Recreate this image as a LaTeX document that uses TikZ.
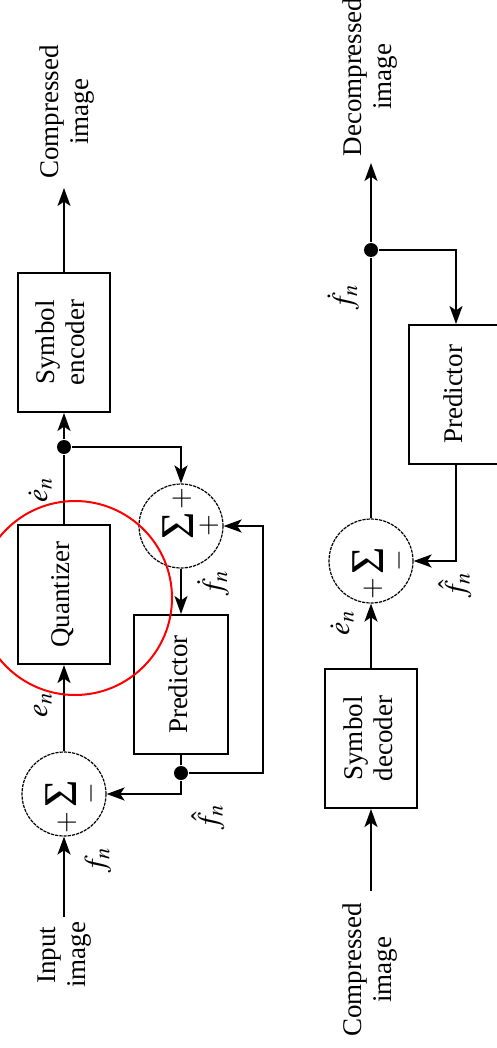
\documentclass[tikz,border=0pt]{standalone}
\usepackage{mathptmx}
\usepackage{fontspec}
\setmainfont{Liberation Serif}
\usetikzlibrary{arrows.meta}

\newcommand{\vlines}[1]{\rotatebox{90}{\begin{tabular}{@{}c@{}}#1\end{tabular}}}

\begin{document}
\begin{tikzpicture}[x=0.5pt,y=-0.5pt,
  every node/.style={font=\fontsize{13.5}{15}\selectfont},
  line width=1pt,
  arr/.style={-{Stealth[length=9pt,width=6.5pt,inset=2.2pt]}},
  box/.style={draw, line width=1pt, minimum width=46pt, minimum height=69.5pt, inner sep=0pt},
  sumnode/.style={circle, draw, line width=0.6pt, dash pattern=on 1.6pt off 0.5pt,
                  minimum size=42pt, inner sep=0pt},
  jdot/.style={circle, fill, minimum size=7pt, inner sep=0pt},
  vtext/.style={rotate=90, align=center},
  sig/.style={rotate=90, inner sep=0pt, font=\fontsize{23.5}{23.5}\selectfont},
  signmark/.style={rotate=90, inner sep=0pt, font=\fontsize{14}{14}\selectfont},
  lab/.style={rotate=90, inner sep=0pt, font=\fontsize{15}{15}\selectfont}]

\useasboundingbox (0,0) rectangle (497,1048);
\clip (0,0) rectangle (497,1048);

% ---------------- Encoder ----------------
\node[box] (enc)   at (64,342.5) {\vlines{Symbol\\encoder}};
\node[box] (quant) at (64,594.5) {\vlines{Quantizer}};
\node[box, minimum width=47pt] (pred1) at (181,684.5) {\vlines{Predictor}};
\node[sumnode] (s1) at (64,794) {};
\node[sumnode] (s2) at (181,526) {};

\node[sig] at ([xshift=-1.5pt]s1.center) {Σ};
\node[sig] at ([xshift=-1.5pt]s2.center) {Σ};
\node[signmark] at (67,823) {$+$};
\node[signmark] at (91,794) {$-$};
\node[signmark] at (182,499) {$+$};
\node[signmark] at (209,526) {$+$};

\node[jdot] (d1) at (64,447) {};
\node[jdot] (d2) at (181,773) {};
\coordinate (fb) at (263,773);
\coordinate (outA) at (64,188);
\coordinate (inA) at (64,917);

\node[vtext] (txtOutA) at (67,112) {Compressed\\image};
\node[vtext] (txtInA) at (65,955) {Input\\image};

\draw[arr] (enc.north) -- (outA);
\draw (quant.north) -- (d1);
\draw[arr] (d1) -- (enc.south);
\draw[arr] (d1) -| (s2.north);
\draw[arr] (s2.south) -- (pred1.north);
\draw (pred1.south) -- (d2);
\draw[arr] (d2) |- (s1.east);
\draw[arr] (d2) -- (fb) |- (s2.east);
\draw[arr] (s1.north) -- (quant.south);
\draw[arr] (inA) -- (s1.south);

\node[lab] (lEdot) at (40,490) {$\dot{e}_n$};
\node[lab] (lE) at (43,705) {$e_n$};
\node[lab] (lF) at (98,860) {$f_n$};
\node[lab] (lFhatA) at (208,817) {$\hat{f}_n$};
\node[lab] (lFdotA) at (213,583) {$\dot{f}_n$};

% highlight ring
\draw[red, line width=1pt] (75,598) circle[radius=48.5pt];

% ---------------- Decoder ----------------
\node[box] (dec) at (371,738.5) {\vlines{Symbol\\decoder}};
\node[box, minimum width=47pt] (pred2) at (456,394.5) {\vlines{Predictor}};
\node[sumnode] (s3) at (371,561) {};
\node[sig] at ([xshift=-1.5pt]s3.center) {Σ};
\node[signmark] at (373,589) {$+$};
\node[signmark] at (399,561) {$-$};

\node[jdot] (d3) at (371,250) {};
\coordinate (outB) at (371,163);
\coordinate (inB) at (371,891);

\node[vtext] (txtOutB) at (370,77) {Decompressed\\image};
\node[vtext] (txtInB) at (370,970) {Compressed\\image};

\draw[arr] (inB) -- (dec.south);
\draw[arr] (dec.north) -- (s3.south);
\draw (s3.north) -- (d3);
\draw[arr] (d3) -- (outB);
\draw[arr] (d3) -| (pred2.north);
\draw[arr] (pred2.south) |- (s3.east);

\node[lab] (lFdotB) at (343,297) {$\dot{f}_n$};
\node[lab] (lFhatB) at (455,585) {$\hat{f}_n$};
\node[lab] (lEdotB) at (342,623) {$\dot{e}_n$};

\end{tikzpicture}
\end{document}
